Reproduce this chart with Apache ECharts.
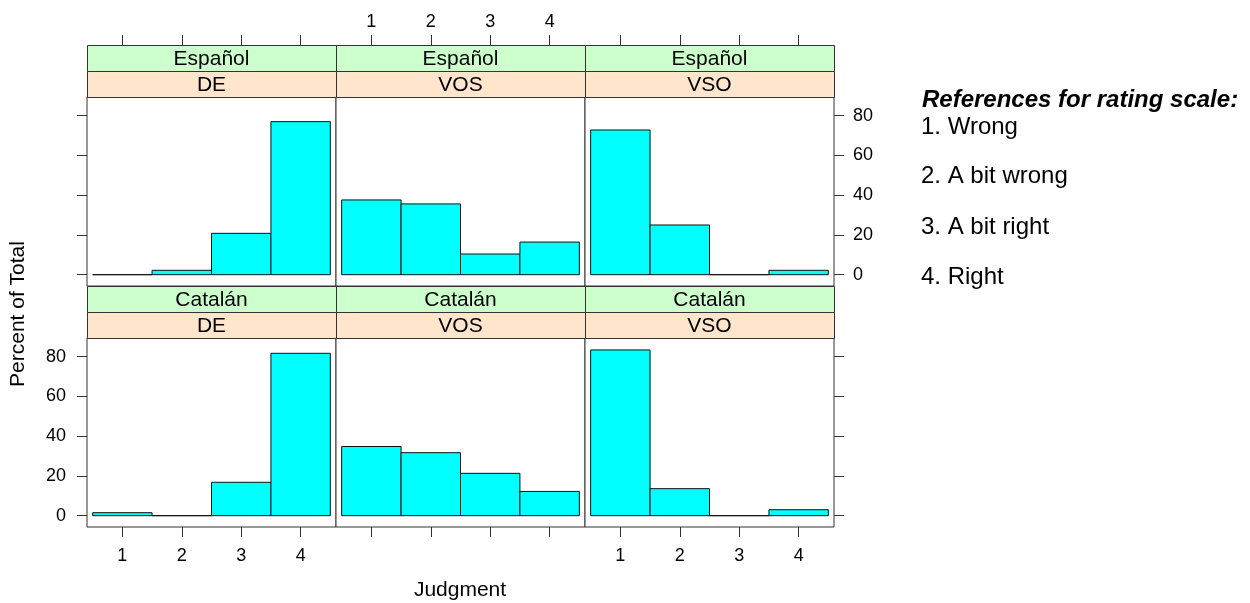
<!DOCTYPE html>
<html>
<head>
<meta charset="utf-8">
<script src="https://cdn.jsdelivr.net/npm/echarts@6/dist/echarts.min.js"></script>
<style>
html,body{margin:0;padding:0;background:#fff;}
#chart{width:1250px;height:603px;}
</style>
</head>
<body>
<div id="chart"></div>
<script>
// ---- data ----
const judgments = [1, 2, 3, 4];
const languages = ['Español', 'Catalán'];
const conditions = ['DE', 'VOS', 'VSO'];
const espanolDE  = [0, 2.2, 20.8, 77.0];
const espanolVOS = [37.6, 35.6, 10.4, 16.4];
const espanolVSO = [72.8, 25.0, 0, 2.2];
const catalanDE  = [1.5, 0, 16.8, 81.7];
const catalanVOS = [34.8, 31.7, 21.3, 12.2];
const catalanVSO = [83.4, 13.6, 0, 3.0];
const yTicks = [0, 20, 40, 60, 80];
const xTicks = [1, 2, 3, 4];
const legendTitle = 'References for rating scale:';
const legendItems = ['1. Wrong', '2. A bit wrong', '3. A bit right', '4. Right'];
const yTitle = 'Percent of Total';
const xTitle = 'Judgment';

const panelValues = [
  [espanolDE, espanolVOS, espanolVSO],
  [catalanDE, catalanVOS, catalanVSO]
];

// ---- layout ----
const colLeft = [87, 336, 585];
const colW = 249;
const panelTop = [97, 338];
const panelH = 189;
const stripH = 26;
const FONT = '"Liberation Sans", Arial, sans-serif';
const AX = '#333';

const grids = [], xAxes = [], yAxes = [], series = [], graphics = [];

function renderHist(params, api) {
  const x = api.value(0), v = api.value(1);
  const p0 = api.coord([x - 0.5, v]);
  const p1 = api.coord([x + 0.5, 0]);
  return {
    type: 'rect',
    shape: { x: p0[0], y: p0[1], width: p1[0] - p0[0], height: p1[1] - p0[1] },
    style: { fill: '#00FFFF', stroke: '#111', lineWidth: 1 }
  };
}

for (let r = 0; r < 2; r++) {
  for (let c = 0; c < 3; c++) {
    const idx = grids.length;
    grids.push({
      left: colLeft[c], top: panelTop[r], width: colW, height: panelH,
      show: true, borderColor: AX, borderWidth: 1, backgroundColor: '#fff'
    });
    const isTop = r === 0;
    const showXLabel = isTop ? (c === 1) : (c !== 1);
    xAxes.push({
      gridIndex: idx, type: 'value', min: 0.405, max: 4.595,
      position: isTop ? 'top' : 'bottom',
      offset: isTop ? stripH * 2 : 0,
      axisLine: { show: false, onZero: false },
      splitLine: { show: false },
      axisTick: { show: true, length: 10, customValues: xTicks, lineStyle: { color: AX } },
      axisLabel: { show: showXLabel, customValues: xTicks, margin: isTop ? 14 : 20,
        fontSize: 18, color: '#000', fontFamily: FONT }
    });
    const yPos = c === 2 ? 'right' : 'left';
    const showYTicks = c !== 1;
    const showYLabel = (c === 0 && r === 1) || (c === 2 && r === 0);
    yAxes.push({
      gridIndex: idx, type: 'value', min: -5.7, max: 89.4,
      position: yPos,
      axisLine: { show: false, onZero: false },
      splitLine: { show: false },
      axisTick: { show: showYTicks, length: 10, customValues: yTicks, lineStyle: { color: AX } },
      axisLabel: { show: showYLabel, customValues: yTicks, margin: c === 2 ? 19 : 21,
        fontSize: 18, color: '#000', fontFamily: FONT }
    });
    series.push({
      type: 'custom', xAxisIndex: idx, yAxisIndex: idx,
      renderItem: renderHist, clip: false,
      data: judgments.map((j, i) => [j, panelValues[r][c][i]])
    });
    // strips
    const stripDefs = [
      { y: panelTop[r] - 2 * stripH, fill: '#CCFFCC', text: languages[r] },
      { y: panelTop[r] - stripH, fill: '#FFE5CC', text: conditions[c] }
    ];
    stripDefs.forEach(s => {
      graphics.push({
        type: 'rect', shape: { x: colLeft[c] + 0.5, y: s.y + 0.5, width: colW, height: stripH },
        style: { fill: s.fill, stroke: AX, lineWidth: 1 }, z: 5
      });
      graphics.push({
        type: 'text', x: colLeft[c] + colW / 2, y: s.y + stripH / 2 + 1,
        style: { text: s.text, fill: '#000', font: '21px ' + FONT, align: 'center', verticalAlign: 'middle' }, z: 6
      });
    });
  }
}

graphics.push({
  type: 'text', x: 18, y: 314, rotation: Math.PI / 2,
  style: { text: yTitle, fill: '#000', font: '21px ' + FONT, align: 'center', verticalAlign: 'middle' }
});
graphics.push({
  type: 'text', x: 460, y: 590,
  style: { text: xTitle, fill: '#000', font: '21px ' + FONT, align: 'center', verticalAlign: 'middle' }
});
graphics.push({
  type: 'text', x: 922, y: 100,
  style: { text: legendTitle, fill: '#000', font: 'italic bold 24px ' + FONT, align: 'left', verticalAlign: 'middle' }
});
const legendY = [127, 176, 227, 277];
legendItems.forEach((t, i) => {
  graphics.push({
    type: 'text', x: 921, y: legendY[i],
    style: { text: t, fill: '#000', font: '24px ' + FONT, align: 'left', verticalAlign: 'middle' }
  });
});

const chart = echarts.init(document.getElementById('chart'));
chart.setOption({
  animation: false,
  backgroundColor: '#fff',
  grid: grids, xAxis: xAxes, yAxis: yAxes, series: series, graphic: graphics
});
</script>
</body>
</html>
